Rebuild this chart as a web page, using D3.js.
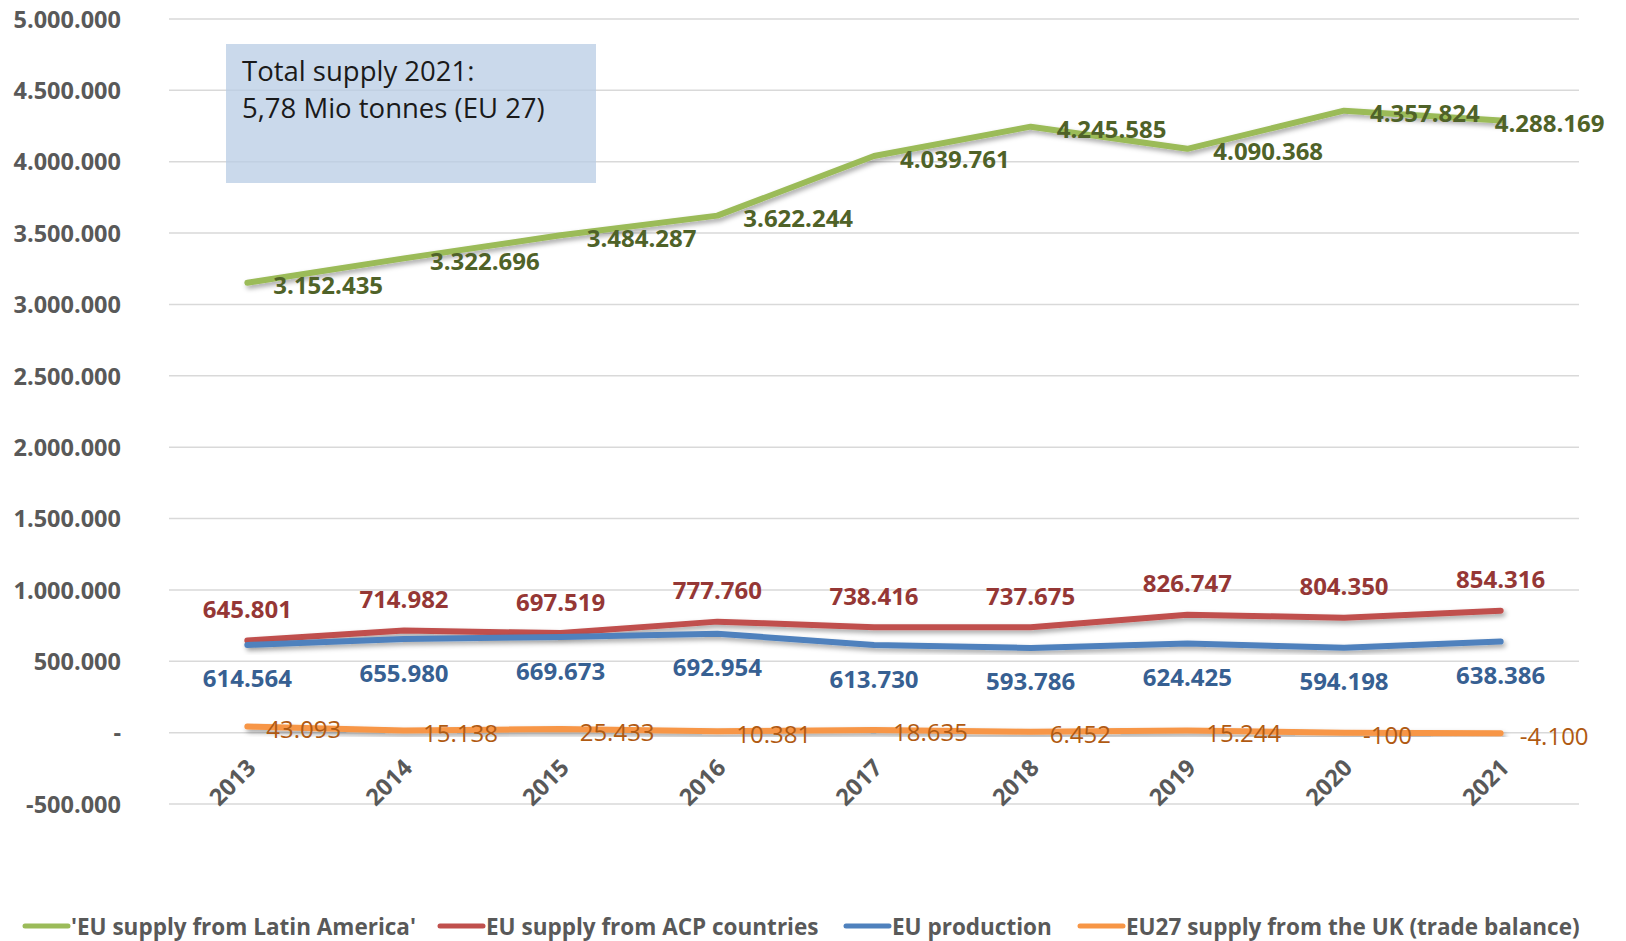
<!DOCTYPE html>
<html>
<head>
<meta charset="utf-8">
<script src="https://cdn.jsdelivr.net/npm/d3@7"></script>
<style>
  html, body { margin: 0; padding: 0; background: #ffffff; }
  svg { display: block; }
  text { font-family: "Open Sans", "Noto Sans", sans-serif; }
</style>
</head>
<body>
<svg id="chart" width="1626" height="941"></svg>
<script>
// ---- data ----
const years = ["2013","2014","2015","2016","2017","2018","2019","2020","2021"];
const latinAmerica = [3152435, 3322696, 3484287, 3622244, 4039761, 4245585, 4090368, 4357824, 4288169];
const acpCountries = [645801, 714982, 697519, 777760, 738416, 737675, 826747, 804350, 854316];
const euProduction = [614564, 655980, 669673, 692954, 613730, 593786, 624425, 594198, 638386];
const ukSupply = [43093, 15138, 25433, 10381, 18635, 6452, 15244, -100, -4100];
const seriesNames = ["'EU supply from Latin America'", "EU supply from ACP countries", "EU production", "EU27 supply from the UK (trade balance)"];
const yTickValues = [-500000, 0, 500000, 1000000, 1500000, 2000000, 2500000, 3000000, 3500000, 4000000, 4500000, 5000000];
const yTickLabels = ["-500.000", "-", "500.000", "1.000.000", "1.500.000", "2.000.000", "2.500.000", "3.000.000", "3.500.000", "4.000.000", "4.500.000", "5.000.000"];
const noteLines = ["Total supply 2021:", "5,78 Mio tonnes (EU 27)"];

// ---- layout / style ----
const svg = d3.select("#chart");
const plot = { left: 169, right: 1579, top: 19, bottom: 804 };
const x = d3.scalePoint().domain(years).range([plot.left, plot.right]).padding(0.5);
const y = d3.scaleLinear().domain([-500000, 5000000]).range([plot.bottom, plot.top]);
const fmtRaw = d3.formatLocale({ decimal: ",", thousands: ".", grouping: [3], currency: ["", ""], minus: "-" }).format(",d");
const fmt = v => fmtRaw(v);

const series = [
  { name: seriesNames[0], values: latinAmerica, color: "#9BBB59", label: "#4F6228", pos: "right", bold: true },
  { name: seriesNames[1], values: acpCountries, color: "#C0504D", label: "#953735", pos: "above", bold: true },
  { name: seriesNames[2], values: euProduction, color: "#4F81BD", label: "#376092", pos: "below", bold: true },
  { name: seriesNames[3], values: ukSupply, color: "#F79646", label: "#B05A12", pos: "rightSmall", bold: false }
];

// shadow filter
const defs = svg.append("defs");
const f = defs.append("filter").attr("id", "shadow").attr("x", "-5%").attr("y", "-50%").attr("width", "110%").attr("height", "200%");
f.append("feDropShadow").attr("dx", 2).attr("dy", 3).attr("stdDeviation", 2.5)
  .attr("flood-color", "#000").attr("flood-opacity", 0.35);

// gridlines
svg.append("g").selectAll("line").data(yTickValues).join("line")
  .attr("x1", plot.left).attr("x2", plot.right)
  .attr("y1", d => y(d)).attr("y2", d => y(d))
  .attr("stroke", "#D9D9D9").attr("stroke-width", 1.5);

// y axis labels
const yAxis = d3.axisLeft(y).tickValues(yTickValues).tickFormat((d, i) => yTickLabels[i]).tickSize(0).tickPadding(0);
const yg = svg.append("g").attr("transform", "translate(121,0)").call(yAxis);
yg.select(".domain").remove();
yg.selectAll("text").attr("font-size", 23.5).attr("font-weight", 700).attr("fill", "#595959")
  .attr("font-family", "'Open Sans', sans-serif").attr("dy", "0.35em");

// annotation box
svg.append("rect").attr("x", 226).attr("y", 44).attr("width", 370).attr("height", 139)
  .attr("fill", "#B8CCE4").attr("fill-opacity", 0.75);
svg.append("g").selectAll("text").data(noteLines).join("text")
  .attr("x", 242).attr("y", (d, i) => 81 + i * 37)
  .attr("font-size", 27.5).attr("fill", "#1a1a1a").text(d => d);

// x axis labels (rotated)
const xAxis = d3.axisBottom(x).tickSize(0).tickPadding(0);
const xg = svg.append("g").attr("transform", "translate(0,756)").call(xAxis);
xg.select(".domain").remove();
xg.selectAll("text")
  .attr("font-size", 23.5).attr("font-weight", 700).attr("fill", "#595959")
  .attr("font-family", "'Open Sans', sans-serif")
  .attr("text-anchor", "end").attr("dy", "0.8em")
  .attr("transform", "translate(-4,0) rotate(-45)");

// lines
const line = d3.line().x((d, i) => x(years[i])).y(d => y(d));
svg.append("g").selectAll("path").data(series).join("path")
  .attr("d", s => line(s.values))
  .attr("fill", "none").attr("stroke", s => s.color).attr("stroke-width", 6)
  .attr("stroke-linecap", "round").attr("stroke-linejoin", "round")
  .attr("filter", "url(#shadow)");

// data labels
series.forEach(s => {
  const g = svg.append("g");
  g.selectAll("text").data(s.values).join("text")
    .attr("x", (d, i) => {
      const px = x(years[i]);
      if (s.pos === "right") return px + (i === s.values.length - 1 ? -6 : 26);
      if (s.pos === "rightSmall") return px + 19;
      return px;
    })
    .attr("y", d => {
      const py = y(d);
      if (s.pos === "above") return py - 32;
      if (s.pos === "below") return py + 33;
      return py + 2;
    })
    .attr("text-anchor", s.pos === "above" || s.pos === "below" ? "middle" : "start")
    .attr("dominant-baseline", "central")
    .attr("font-size", 24).attr("font-weight", s.bold ? 700 : 400)
    .attr("fill", s.label)
    .text(d => fmt(d));
});

// legend
const legendX = [23, 438, 844, 1078];
const legendY = 926;
const lg = svg.append("g").selectAll("g").data(series).join("g")
  .attr("transform", (s, i) => `translate(${legendX[i]},${legendY})`);
lg.append("line").attr("x1", 2).attr("x2", 45).attr("y1", 0).attr("y2", 0)
  .attr("stroke", s => s.color).attr("stroke-width", 5).attr("stroke-linecap", "round");
lg.append("text").attr("x", 48).attr("y", 0).attr("dominant-baseline", "central")
  .attr("font-size", 22.5).attr("font-weight", 700).attr("fill", "#595959")
  .text(s => s.name);
</script>
</body>
</html>
